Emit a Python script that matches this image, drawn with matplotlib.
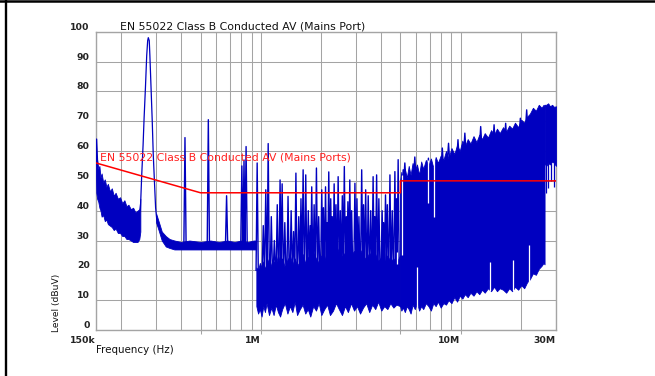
import numpy as np
import matplotlib
matplotlib.use("Agg")
import matplotlib.pyplot as plt
from matplotlib.ticker import LogLocator, NullFormatter, FixedLocator, FixedFormatter
from matplotlib.lines import Line2D

# ---------------- text ----------------
title = "EN 55022 Class B Conducted AV (Mains Port)"
limit_label = "EN 55022 Class B Conducted AV (Mains Ports)"
x_label = "Frequency (Hz)"
y_label = "Level (dBuV)"
x_tick_mhz = [0.15, 1.0, 10.0, 30.0]
x_tick_labels = ["150k", "1M", "10M", "30M"]
y_tick_vals = [0, 10, 20, 30, 40, 50, 60, 70, 80, 90, 100]

# ---------------- limit line (MHz, dBuV) ----------------
limit_mhz = [0.15, 0.5, 5.0, 5.0, 30.0]
limit_db = [56, 46, 46, 50, 50]

# ---------------- measured trace: dense bands (MHz, low, high) ----------------
lowband_mhz = [0.150, 0.1505, 0.152, 0.154, 0.156, 0.158, 0.160, 0.163, 0.166, 0.169,
               0.172, 0.176, 0.180, 0.184, 0.188, 0.193, 0.198, 0.203, 0.208, 0.213,
               0.218, 0.224, 0.230, 0.236, 0.242, 0.247, 0.250]
lowband_hi = [64, 58, 57, 54, 55, 51, 52.5, 49.5, 50.5, 48, 49, 46.5, 47.5, 45, 46, 44,
              44.5, 42.5, 43.5, 41.5, 42, 40.5, 41, 39.5, 40, 40.5, 44]
lowband_lo = [52, 46, 44, 43, 41, 40, 38, 38.5, 36.5, 37, 35.5, 35, 34.5, 33.5, 34, 32.5,
              32.5, 31.5, 31.5, 30.5, 30.5, 30, 29.5, 29.5, 29.5, 30.5, 33]

flat_mhz = [0.300, 0.310, 0.320, 0.335, 0.350, 0.370, 0.400, 0.440, 0.500, 0.560,
            0.620, 0.680, 0.740, 0.800, 0.860, 0.920, 0.950]
flat_lo = [36, 33, 30, 28, 27.5, 27, 27, 27, 27, 27, 27, 27, 27, 27, 27, 27, 27]
flat_hi = [39, 36, 33, 31.5, 30.5, 30, 29.5, 30, 29.5, 30, 29.5, 30, 29.5, 30, 29.5, 30, 30]

mid_mhz = [0.951, 0.97, 0.99, 1.01, 1.03, 1.05, 1.07, 1.10, 1.13, 1.16, 1.19, 1.22, 1.25,
           1.28, 1.32, 1.36, 1.40, 1.44, 1.48, 1.52, 1.57, 1.62, 1.67, 1.72, 1.77, 1.83,
           1.89, 1.95, 2.01, 2.08, 2.15, 2.22, 2.30, 2.38, 2.46, 2.55, 2.64, 2.73, 2.83,
           2.93, 3.03, 3.14, 3.25, 3.37, 3.49, 3.61, 3.74, 3.87, 4.01, 4.15, 4.30, 4.45,
           4.61, 4.77, 4.98]
mid_lo = [8, 5.5, 7, 4.5, 8, 6, 9, 5, 7.5, 5, 8.5, 6, 4.5, 7, 9, 5.5, 8, 6, 9.5, 5, 7, 8.5,
          5.5, 7, 4.5, 8, 6.5, 9, 5, 7, 8.5, 5, 6.5, 9, 7, 5, 8, 6, 9, 6.5, 8, 5.5, 7.5, 9,
          6, 8.5, 7, 9.5, 6.5, 8, 7, 9, 7.5, 8.5, 8]
mid_hi = [21, 20, 22.5, 21, 23, 20.5, 22, 24, 21.5, 23, 22, 25, 22.5, 24, 21, 23.5, 25, 22,
          24, 21.5, 23, 25.5, 22.5, 24.5, 23, 26, 24, 22.5, 25, 23, 26.5, 24, 27, 25, 27.5,
          24.5, 26, 28, 25, 26.5, 24.5, 27, 25, 23.5, 26, 24, 25.5, 23, 24.5, 22.5, 25, 23,
          24, 22.5, 25]

high_mhz = [4.98, 5.05, 5.15, 5.26, 5.38, 5.5, 5.62, 5.75, 5.9, 6.05, 6.2, 6.35, 6.5, 6.7,
            6.9, 7.1, 7.3, 7.5, 7.7, 7.95, 8.2, 8.45, 8.7, 9.0, 9.3, 9.6, 9.9, 10.2, 10.5,
            10.85, 11.2, 11.6, 12.0, 12.4, 12.8, 13.2, 13.7, 14.2, 14.7, 15.2, 15.7, 16.3,
            16.9, 17.5, 18.1, 18.7, 19.4, 20.1, 20.8, 21.5, 22.2, 23.0, 23.8, 24.6, 25.4,
            26.0, 26.3]
high_hi = [50, 53, 48, 54, 51, 55, 52, 56, 53.5, 55.5, 52, 56.5, 54, 57, 55, 57.5, 54.5, 58,
           56, 58.5, 57, 60, 57.5, 61, 59, 62, 60, 63.5, 61.5, 64, 62.5, 65, 63, 65.5, 64,
           66, 64.5, 67, 65.5, 67.5, 66, 68, 66.5, 68.5, 67.5, 69.5, 68, 70.5, 69.5, 71.5,
           72.5, 74.5, 73.5, 75.5, 74.5, 75.5, 75]
high_lo = [8, 6.5, 7.5, 6, 8, 7, 5.5, 8.5, 7, 9, 6.5, 8, 7, 9, 8, 6.5, 9, 8, 9.5, 7.5, 9,
           8.5, 10, 9, 11, 9.5, 11.5, 10.5, 12, 11, 12.5, 11.5, 13, 12, 13.5, 12.5, 14, 13,
           14.5, 13, 14, 13.5, 12.5, 14, 13, 14.5, 13.5, 15, 14, 16, 17, 19, 18.5, 20.5,
           21.5, 22.5, 22]

top_mhz = [26.3, 26.8, 27.4, 28.0, 28.7, 29.3, 30.0]
top_lo = [55.9, 55, 56, 55.5, 56.5, 56, 55]
top_hi = [75.5, 75.5, 76, 75, 75.5, 74.8, 75]

# ---------------- big peak near 270 kHz (line) ----------------
peak_mhz = [0.250, 0.254, 0.258, 0.261, 0.265, 0.269, 0.272, 0.274, 0.277, 0.279,
            0.2825, 0.2867, 0.290, 0.2935, 0.298, 0.302, 0.306]
peak_db = [40, 52, 62, 71, 81, 92, 97, 98, 97, 92, 82, 70, 59, 51, 41, 37, 35]

# ---------------- narrow spikes (MHz, top, base) ----------------
spike_mhz = [0.151, 0.418, 0.547, 0.675, 0.805, 0.825, 0.845, 0.96, 1.03, 1.06, 1.09,
             1.13, 1.17, 1.21, 1.25, 1.28, 1.32, 1.37, 1.42, 1.46, 1.50, 1.55, 1.59,
             1.63, 1.68, 1.73, 1.77, 1.80, 1.85, 1.90, 1.95, 2.02, 2.06, 2.11, 2.15,
             2.19, 2.24, 2.28, 2.33, 2.38, 2.44, 2.50, 2.56, 2.62, 2.68, 2.73, 2.79,
             2.85, 2.96, 3.03, 3.10, 3.20, 3.27, 3.35, 3.45, 3.55, 3.65, 3.72, 3.80,
             3.90, 4.05, 4.12, 4.21, 4.30, 4.43, 4.55, 4.69, 4.78, 4.87,
             5.16, 5.26, 5.9, 6.9, 8.1, 8.7, 9.7, 10.5, 12.6, 14.7, 16.8, 19.9, 21.4]
spike_top = [64, 64.5, 70.5, 45, 55, 57, 61.5, 56, 35, 47, 62.5,
             38, 30, 42, 50.3, 49, 36, 44.8, 40, 33, 52.6, 38, 44,
             53.7, 52, 40, 35, 48, 42, 54.3, 38, 47, 41, 48, 36,
             53, 44, 38, 49, 42, 51.4, 40, 45, 54.8, 38, 43, 50.3,
             40, 49.2, 44, 38, 53.7, 42, 47, 45, 40, 51.4, 38, 52,
             44, 40, 36, 45.3, 42, 52, 40, 53.1, 44, 57.1,
             53.7, 56, 58, 57.6, 61, 62.6, 63.8, 66, 68.2, 68.8, 69.3, 71, 73.8]
spike_base = [55, 29, 29, 29, 29, 29, 29, 20, 20, 20, 20,
              20, 20, 20, 20, 20, 20, 20, 20, 20, 20, 20, 20,
              20, 20, 20, 20, 20, 20, 20, 20, 20, 20, 20, 20,
              20, 20, 20, 20, 20, 20, 20, 20, 20, 20, 20, 20,
              20, 20, 20, 20, 20, 20, 20, 20, 20, 20, 20, 20,
              20, 20, 20, 20, 20, 20, 20, 20, 20, 20,
              45, 50, 52, 52, 55, 57, 58, 60, 62, 63, 64, 66, 68]

# downward blue dips near 30 MHz (MHz, from, to)
dip_mhz = [26.8, 27.5, 28.2, 29.4]
dip_from = [56, 56, 56, 56]
dip_to = [46, 47.5, 50, 48]

# white gaps inside the dense high-frequency block (MHz, from, to)
gap_mhz = [4.8, 5.1, 6.05, 6.9, 7.4, 14.0, 18.2, 22.0]
gap_from = [26, 52, 6, 57, 58, 13, 13, 14.5]
gap_to = [22, 25, 21, 42.5, 38, 22.8, 23.4, 28.5]

# ---------------- figure ----------------
W, H, DPI = 655, 376, 100
fig = plt.figure(figsize=(W / DPI, H / DPI), dpi=DPI, facecolor="white")
ax = fig.add_axes([96 / W, 1 - 330 / H, 460 / W, (330 - 31.7) / H])

blue = "#0000C0"
HZ = 1e6

def hz(v):
    return np.asarray(v, dtype=float) * HZ

for f, lo, hi in [(lowband_mhz, lowband_lo, lowband_hi), (flat_mhz, flat_lo, flat_hi),
                  (mid_mhz, mid_lo, mid_hi), (high_mhz, high_lo, high_hi),
                  (top_mhz, top_lo, top_hi)]:
    ax.fill_between(hz(f), lo, hi, color=blue, lw=0.6, edgecolor=blue, zorder=3)

ax.plot(hz(peak_mhz), peak_db, color=blue, lw=0.9, zorder=3)

k = 10 ** (1.1 / 200)   # spike half-width (~1 px on this log axis)
sx, sy = [], []
for f, t, b in zip(spike_mhz, spike_top, spike_base):
    sx += [f / k, f, f * k, np.nan]
    sy += [b, t, b, np.nan]
ax.plot(hz(sx), sy, color=blue, lw=1.0, zorder=3)

ax.vlines(hz(dip_mhz), dip_from, dip_to, color=blue, lw=0.9, zorder=3)
ax.vlines(hz(gap_mhz), gap_from, gap_to, color="white", lw=0.9, zorder=3.5)

ax.plot(hz(limit_mhz), limit_db, color="#FF0000", lw=1.1, zorder=4)
ax.text(4 / 460, (330 - 161) / 298.3, limit_label, transform=ax.transAxes, color="#FF2020",
        fontsize=7.8, va="baseline", ha="left", zorder=5)

# axes
ax.set_xscale("log")
ax.set_xlim(0.15 * HZ, 30 * HZ)
ax.set_ylim(0, 100)
ax.xaxis.set_major_locator(FixedLocator(hz(x_tick_mhz)))
ax.xaxis.set_major_formatter(FixedFormatter(x_tick_labels))
ax.xaxis.set_minor_locator(LogLocator(base=10, subs=np.arange(2, 10)))
ax.xaxis.set_minor_formatter(NullFormatter())
ax.set_yticks(y_tick_vals)
ax.set_yticklabels([str(v) for v in y_tick_vals])

gray = "#A4A4A4"
ax.grid(True, which="both", color=gray, lw=0.75, zorder=1)
ax.set_axisbelow(True)
for s in ax.spines.values():
    s.set_color(gray)
    s.set_linewidth(1.0)
ax.tick_params(which="both", length=0)
ax.tick_params(axis="y", pad=4.5, labelsize=6.7, labelcolor="#222222")
ax.tick_params(axis="x", pad=4.2, labelsize=6.7, labelcolor="#222222")
for lab in ax.get_yticklabels():
    lab.set_fontweight("bold")
    lab.set_verticalalignment("bottom")
for lab in ax.get_xticklabels():
    lab.set_fontweight("bold")
    lab.set_horizontalalignment("right")

# small outward marks at selected decades
ax.vlines(hz([0.5, 1.0, 5.0, 10.0]), -0.012, 0, transform=ax.get_xaxis_transform(),
          color=gray, lw=0.75, clip_on=False)

fig.text(119.5 / W, 1 - 29.3 / H, title, fontsize=7.8, color="#111111", va="baseline", ha="left")
fig.text(96 / W, 1 - 352.7 / H, x_label, fontsize=7.4, color="#111111", va="baseline", ha="left")
fig.text(56 / W, 1 - 332 / H, y_label, fontsize=6.6, color="#111111", rotation=90,
         ha="center", va="bottom")

# outer border fragments
fig.add_artist(Line2D([0, 1], [1 - 1.1 / H, 1 - 1.1 / H], transform=fig.transFigure,
                      color="black", lw=1.8))
fig.add_artist(Line2D([6.2 / W, 6.2 / W], [0, 1], transform=fig.transFigure,
                      color="black", lw=1.7))

fig.savefig("out.png", dpi=DPI, facecolor="white")
